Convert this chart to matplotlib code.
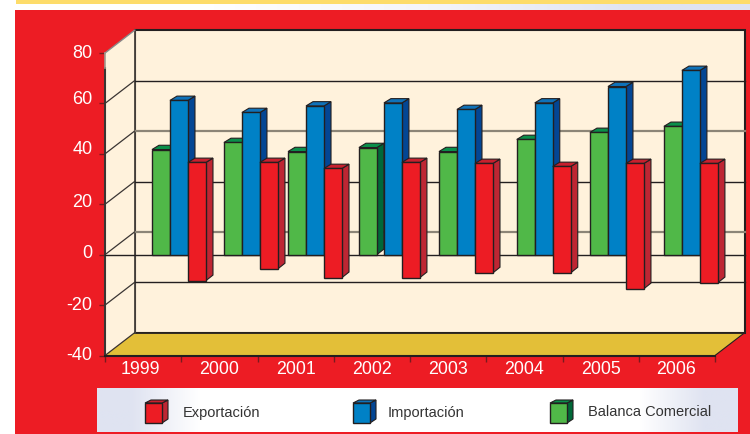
import numpy as np
import matplotlib
matplotlib.use('Agg')
import matplotlib.pyplot as plt
from matplotlib.patches import Polygon, Rectangle

plt.rcParams['font.family'] = ['Liberation Sans', 'DejaVu Sans']

# Data
years = ['1999', '2000', '2001', '2002', '2003', '2004', '2005', '2006']
balanca = [41.7, 44.5, 40.9, 42.5, 40.9, 45.7, 48.5, 50.9]
importacao = [61.2, 56.4, 59.0, 60.2, 57.6, 60.2, 66.7, 73.1]
exportacao_top = [36.6, 36.6, 34.2, 36.6, 36.2, 35.0, 36.2, 36.2]
exportacao_low = [-10.3, -5.6, -9.1, -9.1, -7.2, -7.2, -13.5, -11.1]
y_ticks = [-40, -20, 0, 20, 40, 60, 80]
legend_names = ['Exportación', 'Importación', 'Balanca Comercial']

# Layout of the bars on the category axis
group_start = [0.616, 1.56, 2.40, 3.33, 4.38, 5.40, 6.36, 7.33]
blue_gap = [0, 0, 0, 0.092, 0, 0, 0, 0]
label_pos = [0.46, 1.49, 2.5, 3.5, 4.5, 5.49, 6.51, 7.49]
bar_w = 0.236

RED = '#ed1c24'
INK = '#231f20'
WALL = '#fff2dc'
FLOOR = '#e3bf38'
GREEN = ('#50b848', '#0a8f4a', '#006838')
BLUE = ('#0081c6', '#0f72b9', '#034694')
CRIMSON = (RED, '#c8202e', '#be2633')

fig = plt.figure(figsize=(7.5, 4.34), dpi=100, facecolor='white')

# page furniture, in pixels
bg = fig.add_axes([0, 0, 1, 1])
bg.set_xlim(0, 750)
bg.set_ylim(434, 0)
bg.axis('off')


def h_gradient(x0, x1, y0, y1, stops):
    grad = np.array(stops)[None, :, :] / 255
    bg.imshow(grad, extent=(x0, x1, y1, y0), aspect='auto', interpolation='bilinear', zorder=2)


bg.add_patch(Rectangle((16, 0), 734, 3.5, fc='#fddc6a', ec='none', zorder=1))
h_gradient(107, 750, 4, 10, [(255, 255, 255), (245, 245, 250), (223, 227, 241)])
bg.add_patch(Rectangle((15, 10), 735, 424, fc=RED, ec='none', zorder=1))
h_gradient(97, 235, 388, 432, [(223, 227, 241), (255, 255, 255)])
bg.add_patch(Rectangle((235, 388), 372, 44, fc='white', ec='none', zorder=2))
h_gradient(607, 738, 388, 432, [(255, 255, 255), (223, 227, 241)])
bg.set_xlim(0, 750)
bg.set_ylim(434, 0)

# legend swatches and labels
swatch_x = [145, 353, 550]
text_x = [183, 388, 588]
for sx, tx, name, col in zip(swatch_x, text_x, legend_names, [CRIMSON, BLUE, GREEN]):
    bg.add_patch(Polygon([(sx + 17, 403), (sx + 23, 400), (sx + 23, 419), (sx + 17, 423)],
                         fc=col[2], ec=INK, lw=0.8, zorder=3))
    bg.add_patch(Polygon([(sx, 403), (sx + 6, 400), (sx + 23, 400), (sx + 17, 403)],
                         fc=col[1], ec=INK, lw=0.8, zorder=3))
    bg.add_patch(Rectangle((sx, 403), 17, 20, fc=col[0], ec=INK, lw=1, zorder=3))
    bg.text(tx, 412.5, name, color='#333333', fontsize=10.5, va='center', ha='left', zorder=3)

# chart axes: front plane of the pseudo 3D box
ax = fig.add_axes([105 / 750, (434 - 355.5) / 434, 610 / 750, 302.5 / 434])
ax.set_xlim(0, 8)
ax.set_ylim(-40, 80)
ax.patch.set_alpha(0)
for s in ax.spines.values():
    s.set_visible(False)

dx, dy = 0.387, 9.0       # depth of the box
bx, by = 0.092, 1.7       # depth of a bar

ax.add_patch(Polygon([(dx, -40 + dy), (8 + dx, -40 + dy), (8 + dx, 80 + dy), (dx, 80 + dy)],
                     fc=WALL, ec=INK, lw=1.5, clip_on=False, zorder=1))
ax.add_patch(Polygon([(0, -40), (dx, -40 + dy), (dx, 80 + dy), (0, 80)],
                     fc=WALL, ec='none', clip_on=False, zorder=1))
ax.add_patch(Polygon([(0, -40), (8, -40), (8 + dx, -40 + dy), (dx, -40 + dy)],
                     fc=FLOOR, ec='none', clip_on=False, zorder=2))
ax.plot([dx, 8 + dx], [-40 + dy, -40 + dy], color=INK, lw=1.3, clip_on=False, zorder=3)
ax.plot([dx, dx], [-40 + dy, 80 + dy], color='#4a4540', lw=1.2, clip_on=False, zorder=3)
ax.plot([8, 8 + dx], [-40, -40 + dy], color=INK, lw=0.8, clip_on=False, zorder=3)

# grid lines on back wall and side wall
for i, v in enumerate(y_ticks[1:-1]):
    gray = v in (0, 40)
    ax.plot([dx, 8 + dx], [v + dy, v + dy], color='#8c8577' if gray else INK,
            lw=1.6 if gray else 1.0, clip_on=False, zorder=3)
for v in y_ticks[:-1]:
    ax.plot([0, dx], [v, v + dy], color='#3a3533', lw=0.9, clip_on=False, zorder=3)
ax.plot([0, dx], [80, 80 + dy], color='#8a8a8a', lw=1.0, clip_on=False, zorder=3)
ax.plot([0, 0], [-40, 74], color='#3a3533', lw=1.5, clip_on=False, zorder=4)
ax.plot([0, 0], [74, 80], color='#a09a90', lw=1.2, clip_on=False, zorder=4)
ax.plot([0, 8], [-40, -40], color=INK, lw=1.5, clip_on=False, zorder=4)
ax.plot([0, 8 + dx], [0, 0], color=INK, lw=1.0, clip_on=False, zorder=4)


def bar3d(x, low, high, col, z):
    ax.add_patch(Polygon([(x + bar_w, low), (x + bar_w + bx, low + by * 1.3),
                          (x + bar_w + bx, high + by), (x + bar_w, high)],
                         fc=col[2], ec=INK, lw=0.8, clip_on=False, zorder=z))
    ax.add_patch(Polygon([(x, high), (x + bx, high + by), (x + bar_w + bx, high + by), (x + bar_w, high)],
                         fc=col[1], ec=INK, lw=0.8, clip_on=False, zorder=z))
    ax.bar(x, high - low, bar_w, bottom=low, align='edge', color=col[0], edgecolor=INK,
           linewidth=1.0, clip_on=False, zorder=z + 0.1)


for i in range(len(years)):
    z = 5 + i * 3
    gx = group_start[i]
    bar3d(gx, 0, balanca[i], GREEN, z)
    bar3d(gx + bar_w + blue_gap[i], 0, importacao[i], BLUE, z + 1)
    bar3d(gx + 2 * bar_w + blue_gap[i], exportacao_low[i], exportacao_top[i], CRIMSON, z + 2)

# ticks
ax.set_xticks(range(9))
ax.set_xticklabels([])
ax.set_xticks(label_pos, labels=years, minor=True)
ax.tick_params(axis='x', which='major', length=4, width=1, color='#7a1a1e', direction='out')
ax.tick_params(axis='x', which='minor', length=0, pad=4, labelsize=12.8, labelcolor='white')
ax.set_yticks(y_ticks)
ax.set_yticklabels([])
ax.tick_params(axis='y', length=4, width=1, color='#7a1a1e', direction='out')

# the value labels sit slightly above their ticks in the original
label_nudge = {80: 0, 60: 4, 40: 4, 20: 2, 0: 1, -20: 0, -40: 0}
for v in y_ticks:
    ax.annotate(str(v), (0, v), xytext=(-9, label_nudge[v] * 0.72), textcoords='offset points',
                ha='right', va='center', color='white', fontsize=13, annotation_clip=False)

fig.savefig('out.png', dpi=100)
